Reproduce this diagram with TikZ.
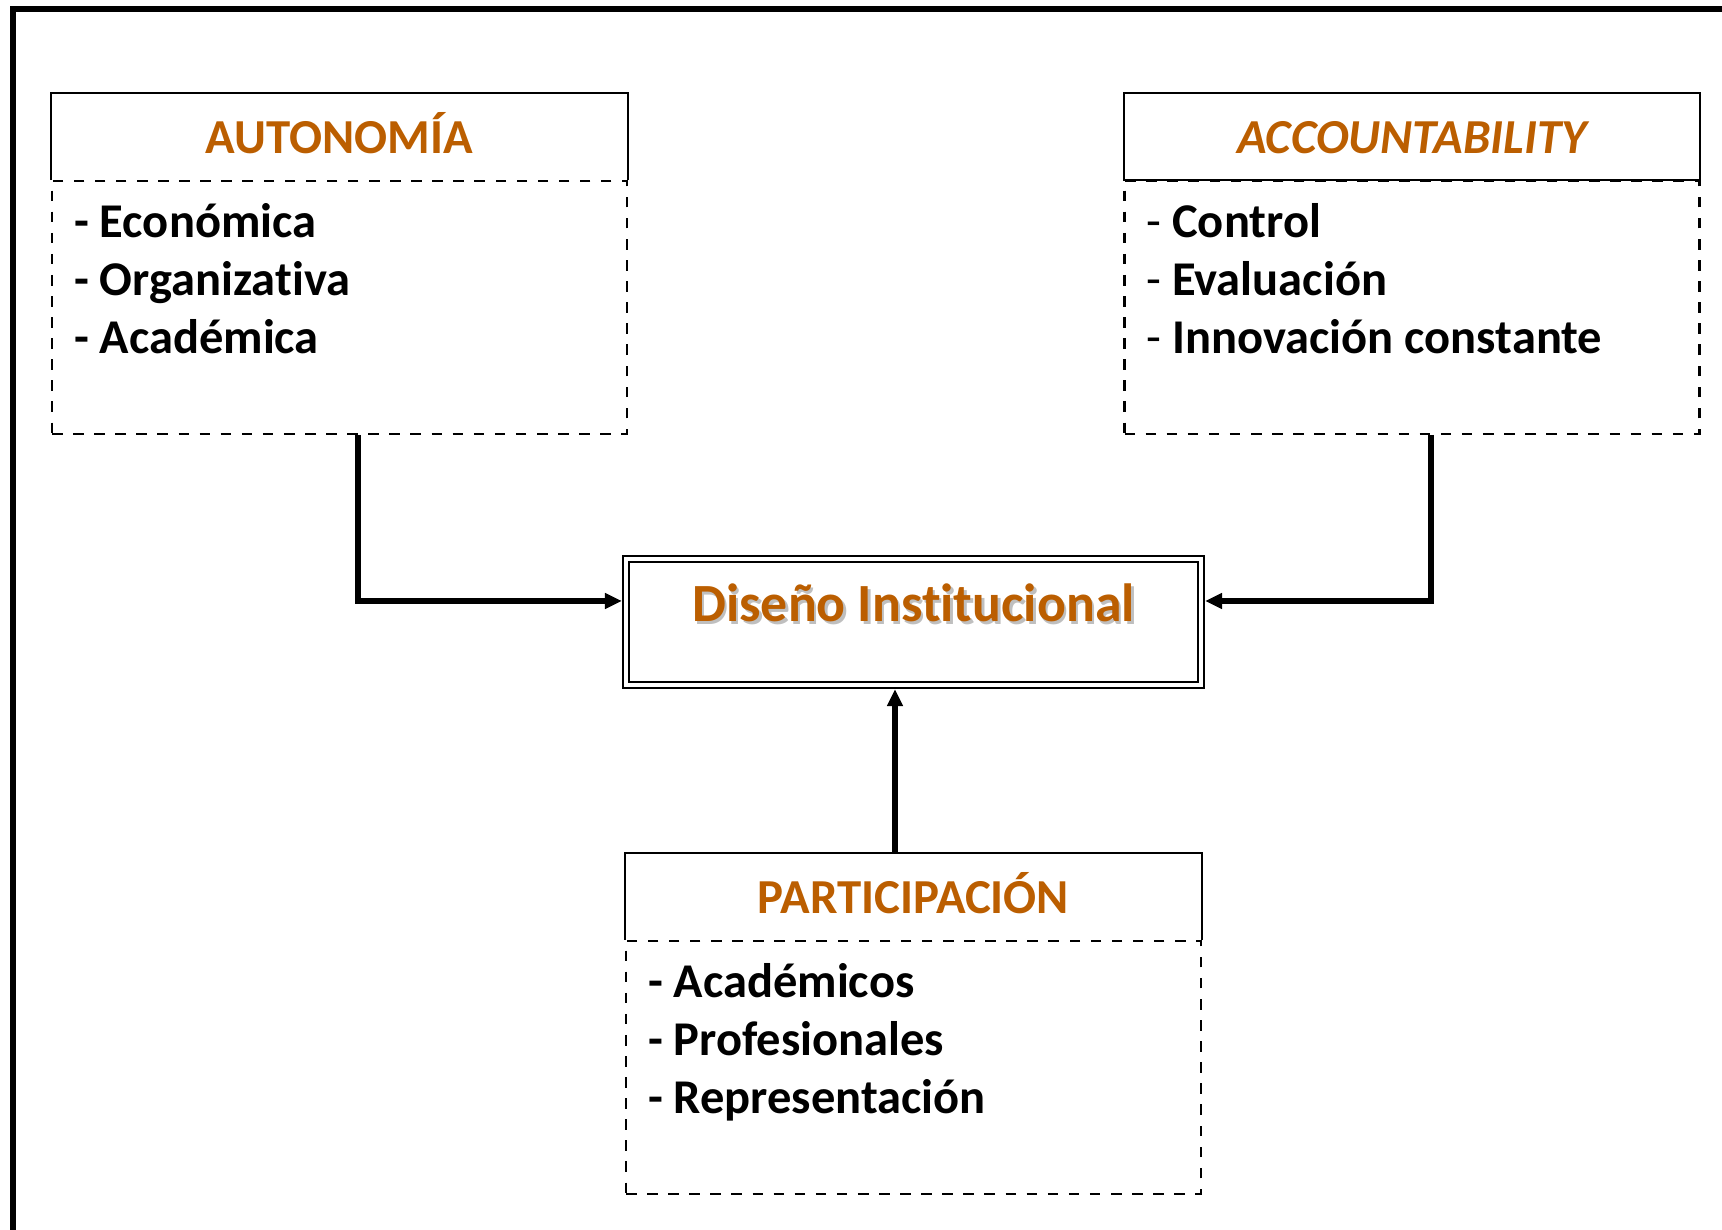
\documentclass[tikz,border=0pt]{standalone}
\usepackage{fontspec}
\setmainfont[Ligatures=CommonOff]{Carlito}
\usetikzlibrary{positioning,arrows.meta}
\definecolor{titlecol}{RGB}{187,94,0}
\newcommand\shadowtext[1]{\makebox[0pt][l]{\hspace{0.025cm}\raisebox{-0.025cm}{\textcolor{black!25}{#1}}}#1}
\tikzset{
  boxline/.style={line width=0.6pt},
  headbox/.style={minimum width=5.75cm, minimum height=0.85cm, inner sep=0pt, text height=0.34cm, text depth=0cm, font=\fontsize{13.9}{17}\selectfont\bfseries, text=titlecol},
  listbox/.style={draw, dashed, boxline, minimum width=5.75cm, minimum height=2.53cm, inner xsep=0.22cm, inner ysep=0pt, font=\fontsize{13.8}{16.4}\selectfont\bfseries},
  centerbox/.style={draw, double, line width=0.6pt, double distance=1.1pt, outer sep=1.15pt, minimum width=5.75cm, minimum height=1.26cm, text height=0.4cm, text depth=0.4cm, font=\fontsize{15.3}{18}\selectfont\bfseries, text=titlecol},
  link/.style={line width=1.6pt, -{Triangle[length=1.7mm,width=1.5mm]}},
  frame/.style={line width=1.6pt}
}
\newcommand\itemlist[1]{\parbox[t][2.53cm][t]{5.31cm}{\rule{0pt}{0.57cm}#1}}
\begin{document}
\begin{tikzpicture}
\useasboundingbox (0,0) rectangle (17.22,12.30);
\draw[frame] (0.13,0) |- (17.22,12.21);

\node[headbox] (autT) at (3.395,10.935) {AUTONOMÍA};
\node[listbox, below=0pt of autT] (autL) {\itemlist{- Económica\\- Organizativa\\- Académica}};
\node[headbox] (accT) at (14.12,10.935) {\itshape ACCOUNTABILITY};
\node[listbox, below=0pt of accT] (accL) {\itemlist{{\mdseries -} Control\\{\mdseries -} Evaluación\\{\mdseries -} Innovación constante}};
\node[headbox] (parT) at (9.135,3.335) {PARTICIPACIÓN};
\node[listbox, below=0pt of parT] (parL) {\itemlist{- Académicos\\- Profesionales\\- Representación}};
\foreach \t in {autT,parT}
  \draw[boxline] (\t.south west) |- (\t.north east) -- (\t.south east);
\draw[boxline] (accT.south west) rectangle (accT.north east);

\node[centerbox] (dis) at (9.135,6.08) {\shadowtext{Diseño Institucional}};

\draw[link] ([xshift=0.185cm]autL.south) |- ([yshift=0.21cm]dis.west);
\draw[link] ([xshift=0.19cm]accL.south) |- ([yshift=0.21cm]dis.east);
\draw[link] ([xshift=-0.185cm]parT.north) -- ([xshift=-0.185cm]dis.south);
\end{tikzpicture}
\end{document}
